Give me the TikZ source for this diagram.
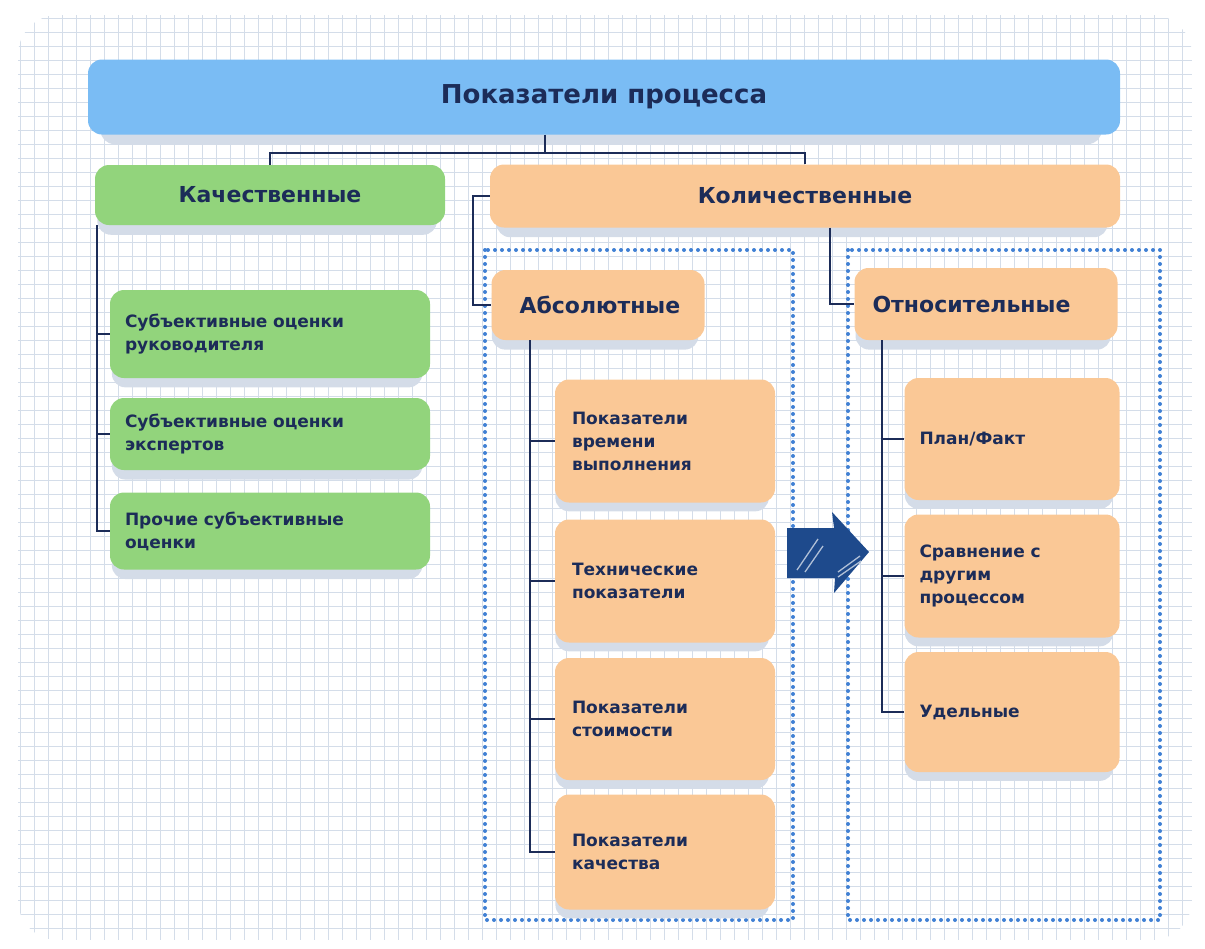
\documentclass[tikz,border=0pt]{standalone}
\usepackage{fontspec}
\setmainfont{DejaVu Sans}
\usetikzlibrary{shadows,positioning}

\definecolor{ink}{RGB}{28,44,88}
\definecolor{titleblue}{RGB}{122,188,244}
\definecolor{qualgreen}{RGB}{146,212,124}
\definecolor{quantorange}{RGB}{250,200,150}
\definecolor{gridc}{RGB}{212,221,233}
\definecolor{shadowc}{RGB}{212,220,232}
\definecolor{dotblue}{RGB}{64,128,212}
\definecolor{arrowblue}{RGB}{30,74,140}

\tikzset{
     box/.style={fill=#1, rounded corners=14, text=ink, font=\bfseries, inner sep=0pt,
       drop shadow={shadow xshift=-3pt, shadow yshift=-11pt, shadow scale=0.97, fill=shadowc, opacity=1}},
     head/.style={box=#1, font=\bfseries\fontsize{22}{25}\selectfont},
     leaf/.style={box=#1, font=\bfseries\fontsize{17}{23}\selectfont, align=left},
     leafg/.style={leaf=qualgreen, minimum width=320, text width=290, inner xsep=15},
     leafa/.style={leaf=quantorange, minimum width=220, text width=186, inner xsep=17},
     leafr/.style={leaf=quantorange, minimum width=215, text width=185, inner xsep=15},
     link/.style={draw=ink, line width=1.6},
     group/.style={draw=dotblue, line width=4, dash pattern=on 0pt off 7pt, line cap=round},
}

\begin{document}
\begin{tikzpicture}[x=1pt,y=-1pt]
		\useasboundingbox (0,0) rectangle (1205,948);
		% paper
		\begin{scope}
			\clip[rounded corners=40] (18,15) rectangle (1192,940);
			\foreach \x in {20,34,...,1190}{
				\draw[gridc, line width=1] (\x,15) -- (\x,940);
			}
			\foreach \y in {18,32,...,940}{
				\draw[gridc, line width=1] (18,\y) -- (1192,\y);
			}
		\end{scope}

		\draw[group] (485,250) rectangle (793,920);
		\draw[group] (848,250) rectangle (1160,920);

		\node[box=titleblue, minimum width=1032, minimum height=75,
		  font=\bfseries\fontsize{26}{30}\selectfont] (title) at (604,97) {Показатели процесса};
		\node[head=qualgreen, minimum width=350, minimum height=60] (qual) at (270,195) {Качественные};
		\node[head=quantorange, minimum width=630, minimum height=63] (quant) at (805,196) {Количественные};

		\node[leafg, minimum height=88] (s1) at (270,334) {Субъективные оценки\\руководителя};
		\node[leafg, minimum height=72] (s2) at (270,434) {Субъективные оценки\\экспертов};
		\node[leafg, minimum height=77] (s3) at (270,531) {Прочие субъективные\\оценки};

		\node[head=quantorange, minimum width=213, minimum height=70, text width=157,
		  inner xsep=28, align=left] (abs) at (598,305) {Абсолютные};
		\node[head=quantorange, minimum width=263, minimum height=72, text width=227,
		  inner xsep=18, align=left] (rel) at (986,304) {Относительные};

		\node[leafa, minimum height=123] (a1) at (665,441) {Показатели\\времени\\выполнения};
		\node[leafa, minimum height=123] (a2) at (665,581) {Технические\\показатели};
		\node[leafa, minimum height=122] (a3) at (665,719) {Показатели\\стоимости};
		\node[leafa, minimum height=115] (a4) at (665,852) {Показатели\\качества};

		\node[leafr, minimum height=122] (r1) at (1012,439) {План/Факт};
		\node[leafr, minimum height=123] (r2) at (1012,576) {Сравнение с\\другим\\процессом};
		\node[leafr, minimum height=120] (r3) at (1012,712) {Удельные};

		% tree
		\coordinate (split) at (545,153);
		\draw[link] (split |- title.south) -- (split);
		\draw[link] (qual.north) |- (split) -| (quant.north);

		\coordinate (qt) at (97,225);
		\draw[link] (qt) |- (s3.west);
		\foreach \n in {s1,s2}
			\draw[link] (qt |- \n.west) -- (\n.west);

		\draw[link] (quant.west) -- ++(-17,0) |- (abs.west);
		\draw[link] ([xshift=25]quant.south) |- (rel.west);

		\coordinate (at) at ([xshift=-68]abs.south);
		\draw[link] (at) |- (a4.west);
		\foreach \n in {a1,a2,a3}
			\draw[link] (at |- \n.west) -- (\n.west);

		\coordinate (rt) at ([xshift=-104]rel.south);
		\draw[link] (rt) |- (r3.west);
		\foreach \n in {r1,r2}
			\draw[link] (rt |- \n.west) -- (\n.west);

		% arrow
		\fill[arrowblue] (787,528) -- (834,528) -- (832,512) -- (869,552) -- (834,593)
		  -- (835,578) -- (787,578) -- cycle;
		\draw[white!65!arrowblue, line width=1.3] (797,570) -- (818,539);
		\draw[white!65!arrowblue, line width=1.3] (805,572) -- (823,546);
		\draw[white!65!arrowblue, line width=1.3] (838,572) -- (860,556);
		\draw[white!65!arrowblue, line width=1.3] (838,577) -- (861,561);
\end{tikzpicture}
\end{document}
